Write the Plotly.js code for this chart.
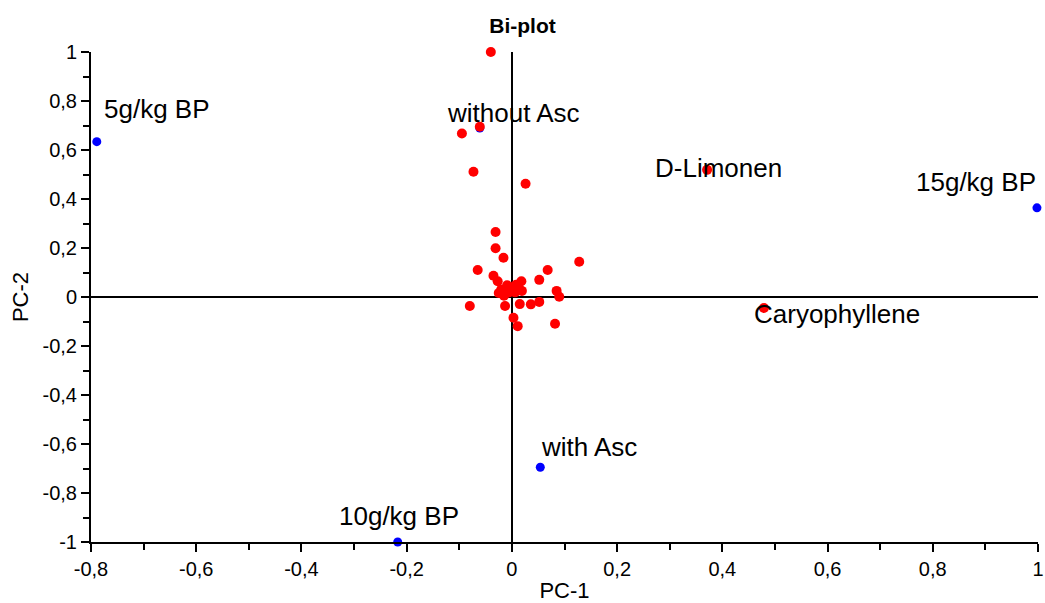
<!DOCTYPE html>
<html><head><meta charset="utf-8">
<script src="https://cdn.plot.ly/plotly-3.0.1.min.js"></script>
<style>html,body{margin:0;padding:0;background:#fff}#chart{width:1045px;height:603px}</style>
</head><body><div id="chart"></div>
<script>
// Scores (samples)
const scoreLabels = ["5g/kg BP", "without Asc", "15g/kg BP", "with Asc", "10g/kg BP"];
const scoreX = [-0.789, -0.061, 0.998, 0.054, -0.217];
const scoreY = [0.634, 0.690, 0.364, -0.695, -1.0];

// Loadings (variables)
const loadX = [-0.040, -0.061, -0.095, -0.073, 0.026, 0.371, 0.479,
  -0.031, -0.031, -0.016, -0.065, 0.128, 0.068, -0.035, -0.027, 0.052, 0.018,
  -0.009, 0.013, 0.019, -0.020, -0.025, -0.007, 0.006, 0.085, 0.090, -0.080,
  -0.013, 0.015, 0.036, 0.052, 0.003, 0.011, 0.082, -0.003, 0.008, -0.015];
const loadY = [1.0, 0.695, 0.667, 0.511, 0.462, 0.519, -0.045,
  0.265, 0.199, 0.160, 0.110, 0.144, 0.110, 0.087, 0.064, 0.070, 0.064,
  0.048, 0.038, 0.025, 0.031, 0.016, 0.018, 0.019, 0.025, 0.001, -0.037,
  -0.037, -0.029, -0.030, -0.020, -0.085, -0.119, -0.109, 0.040, 0.050, 0.005];
const loadLabels = {5: "D-Limonen", 6: "Caryophyllene"};

// Tick labels
const xTickVals = [-0.8, -0.6, -0.4, -0.2, 0, 0.2, 0.4, 0.6, 0.8, 1];
const xTickText = ["-0,8", "-0,6", "-0,4", "-0,2", "0", "0,2", "0,4", "0,6", "0,8", "1"];
const yTickVals = [-1, -0.8, -0.6, -0.4, -0.2, 0, 0.2, 0.4, 0.6, 0.8, 1];
const yTickText = ["-1", "-0,8", "-0,6", "-0,4", "-0,2", "0", "0,2", "0,4", "0,6", "0,8", "1"];

const FONT = "Liberation Sans, Arial, sans-serif";

// Label placement (style only)
const scoreLabelStyle = [
  {xanchor: "left", xshift: 5, yshift: 33},
  {xanchor: "center", xshift: 34, yshift: 15},
  {xanchor: "right", xshift: 1, yshift: 26},
  {xanchor: "left", xshift: -1, yshift: 20},
  {xanchor: "right", xshift: 63, yshift: 26}
];
const loadLabelStyle = {
  5: {xanchor: "center", xshift: 11, yshift: 2},
  6: {xanchor: "center", xshift: 73, yshift: -6}
};

const annotations = [];
scoreLabels.forEach((t, i) => {
  const s = scoreLabelStyle[i];
  annotations.push({x: scoreX[i], y: scoreY[i], xref: "x", yref: "y", text: t, showarrow: false,
    xanchor: s.xanchor, yanchor: "middle", xshift: s.xshift, yshift: s.yshift,
    font: {family: FONT, size: 26, color: "#000"}});
});
Object.keys(loadLabels).forEach(k => {
  const s = loadLabelStyle[k];
  annotations.push({x: loadX[k], y: loadY[k], xref: "x", yref: "y", text: loadLabels[k], showarrow: false,
    xanchor: s.xanchor, yanchor: "middle", xshift: s.xshift, yshift: s.yshift,
    font: {family: FONT, size: 26, color: "#000"}});
});

const traces = [
  {x: scoreX, y: scoreY, mode: "markers", type: "scatter", cliponaxis: false,
   marker: {color: "#0000ff", size: 9}, hoverinfo: "x+y"},
  {x: loadX, y: loadY, mode: "markers", type: "scatter", cliponaxis: false,
   marker: {color: "#ff0000", size: 10}, hoverinfo: "x+y"}
];

const axisCommon = {
  showgrid: false, zeroline: true, zerolinecolor: "#000", zerolinewidth: 2,
  showline: true, linecolor: "#000", linewidth: 2,
  ticks: "outside", ticklen: 8, tickwidth: 2, tickcolor: "#000",
  tickmode: "array", ticklabeloverflow: "allow",
  tickfont: {family: FONT, size: 20, color: "#000"},
  minor: {tickmode: "linear", dtick: 0.1, ticks: "outside", ticklen: 6, tickwidth: 2, tickcolor: "#000", showgrid: false}
};

const layout = {
  width: 1045, height: 603,
  margin: {l: 91, r: 7, t: 52, b: 61},
  paper_bgcolor: "#fff", plot_bgcolor: "#fff",
  showlegend: false,
  title: {text: "<b>Bi-plot</b>", x: 0.5, xanchor: "center", y: 0.958, yanchor: "middle",
    font: {family: FONT, size: 21, color: "#000"}},
  xaxis: Object.assign({}, axisCommon, {range: [-0.8, 1], tickvals: xTickVals, ticktext: xTickText,
    minor: Object.assign({}, axisCommon.minor, {tick0: -0.8}),
    title: {text: "PC-1", standoff: 4, font: {family: FONT, size: 22, color: "#000"}}}),
  yaxis: Object.assign({}, axisCommon, {range: [-1, 1], tickvals: yTickVals, ticktext: yTickText,
    minor: Object.assign({}, axisCommon.minor, {tick0: -1}),
    title: {text: "PC-2", standoff: 8, font: {family: FONT, size: 22, color: "#000"}}}),
  annotations: annotations
};

Plotly.newPlot("chart", traces, layout, {displayModeBar: false, staticPlot: true});
</script></body></html>
